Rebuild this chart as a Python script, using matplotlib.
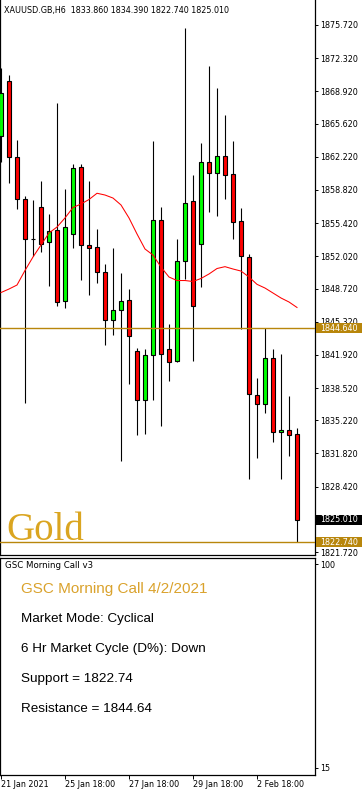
import matplotlib
matplotlib.use('Agg')
import matplotlib.pyplot as plt
from matplotlib.patches import Rectangle
from matplotlib.transforms import blended_transform_factory as blend

# 6H candles, XAUUSD
opens = [1864.35, 1869.98, 1862.20, 1857.89, 1853.79, 1857.07, 1853.49, 1854.72,
         1847.44, 1854.31, 1861.17, 1853.18, 1852.97, 1850.41, 1845.49, 1846.52,
         1847.54, 1842.37, 1837.30, 1841.91, 1855.74, 1842.52, 1841.29, 1851.54,
         1857.69, 1853.28, 1861.68, 1860.56, 1862.30, 1860.45, 1855.64, 1851.95,
         1837.81, 1836.89, 1841.60, 1834.00, 1834.22, 1833.86]
highs = [1871.31, 1870.60, 1863.94, 1858.20, 1857.79, 1859.74, 1856.36, 1867.73,
         1858.92, 1861.48, 1861.48, 1859.74, 1854.82, 1851.23, 1852.87, 1850.31,
         1848.67, 1842.63, 1842.52, 1863.83, 1857.07, 1845.08, 1853.79, 1875.41,
         1860.35, 1863.63, 1871.52, 1869.27, 1866.50, 1863.83, 1856.97, 1852.26,
         1839.55, 1844.64, 1842.52, 1842.01, 1837.71, 1834.39]
lows = [1861.68, 1859.53, 1856.82, 1836.99, 1852.05, 1852.46, 1848.98, 1846.88,
        1846.72, 1852.87, 1849.59, 1848.06, 1849.29, 1842.93, 1843.96, 1831.05,
        1838.94, 1833.71, 1833.81, 1837.30, 1834.63, 1839.24, 1841.24, 1849.70,
        1841.29, 1848.88, 1856.56, 1856.15, 1857.89, 1853.79, 1844.57, 1829.20,
        1831.35, 1835.97, 1832.99, 1829.20, 1831.56, 1822.74]
closes = [1868.75, 1862.20, 1857.89, 1853.79, 1853.79, 1853.28, 1854.61, 1847.34,
          1855.02, 1861.07, 1853.18, 1852.87, 1850.41, 1845.49, 1846.52, 1847.44,
          1843.85, 1837.30, 1841.91, 1855.74, 1842.01, 1841.19, 1851.54, 1857.48,
          1846.93, 1861.68, 1860.56, 1862.30, 1860.35, 1855.54, 1852.05, 1837.91,
          1836.89, 1841.60, 1834.02, 1834.22, 1833.76, 1825.01]
ma = [1848.31, 1848.67, 1849.08, 1850.57, 1851.95, 1853.18, 1854.41, 1855.02,
      1855.95, 1857.02, 1857.38, 1857.84, 1858.48, 1858.30, 1857.99, 1857.28,
      1855.95, 1854.31, 1852.77, 1852.15, 1850.92, 1849.90, 1849.54, 1849.54,
      1849.44, 1849.75, 1850.21, 1850.77, 1850.96, 1850.72, 1850.51, 1849.90,
      1849.15, 1848.77, 1848.26, 1847.75, 1847.34, 1846.78]

resistance = 1844.64
support = 1822.74
price_ticks = [1875.72, 1872.32, 1868.92, 1865.62, 1862.22, 1858.82, 1855.42,
               1852.02, 1848.72, 1845.32, 1841.92, 1838.52, 1835.22, 1831.82,
               1828.42, 1825.02, 1821.72]
date_idx = [0, 8, 16, 24, 32]
date_labels = ['21 Jan 2021', '25 Jan 18:00', '27 Jan 18:00', '29 Jan 18:00', '2 Feb 18:00']
ind_ticks = [15, 100]
info_lines = ['Market Mode: Cyclical', '6 Hr Market Cycle (D%): Down',
              'Support = 1822.74', 'Resistance = 1844.64']

W, H = 364, 790
fig = plt.figure(figsize=(W / 100, H / 100), dpi=100)


def fx(x):
    return x / W


def fy(y):
    return 1 - y / H


ax = fig.add_axes([0, fy(555), 315 / W, 555 / H])
ax2 = fig.add_axes([0, fy(774.5), 315 / W, (774.5 - 557.5) / H])

# candles
x = list(range(len(opens)))
bottoms = [min(o, c) for o, c in zip(opens, closes)]
heights = [abs(c - o) for o, c in zip(opens, closes)]
colors = ['#00ff00' if c > o else ('#ff0000' if c < o else 'black') for o, c in zip(opens, closes)]
ax.vlines(x, lows, highs, color='black', lw=0.8, zorder=2)
ax.bar(x, heights, width=0.56, bottom=bottoms, color=colors, edgecolor='black',
       linewidth=0.8, zorder=3)
ax.plot(x, ma, color='red', lw=0.75, zorder=4)
ax.axhline(resistance, color='#b8860b', lw=1.0, zorder=5)
ax.axhline(support, color='#b8860b', lw=1.0, zorder=5)

ax.set_xlim(-0.125, 39.25)
ax.set_ylim(1821.42, 1878.28)
ax.set_xticks([])
ax.yaxis.tick_right()
ax.set_yticks(price_ticks)
ax.set_yticklabels([f'{v:.3f}' for v in price_ticks])
ax.tick_params(axis='y', length=2.5, width=0.7, pad=1.5, labelsize=5.8)
ax.spines['top'].set_visible(False)
for s in ['left', 'right', 'bottom']:
    ax.spines[s].set_linewidth(0.9)

# price labels on the right scale
tr = blend(ax.transAxes, ax.transData)
for val, bg in [(resistance, '#b8860b'), (closes[-1], 'black'), (support, '#b8860b')]:
    ax.add_patch(Rectangle((316 / 315, val - 0.52), 46 / 315, 1.04, transform=tr,
                           facecolor=bg, edgecolor='none', clip_on=False, zorder=6))
    ax.text(320 / 315, val, f'{val:.3f}', transform=tr, ha='left', va='center',
            color='white', fontsize=5.8, clip_on=False, zorder=7)

fig.text(fx(4), fy(10),
         f'XAUUSD.GB,H6  {opens[-1]:.3f} {highs[-1]:.3f} {lows[-1]:.3f} {closes[-1]:.3f}',
         fontsize=5.8, va='center', ha='left')
fig.text(fx(6), fy(540), 'Gold', family='Liberation Serif', fontsize=28,
         color='#daa520', va='baseline')

# indicator window
ax2.set_xlim(-0.125, 39.25)
ax2.set_ylim(12.29, 102.71)
ax2.yaxis.tick_right()
ax2.set_yticks(ind_ticks)
ax2.set_yticklabels([str(v) for v in ind_ticks])
ax2.tick_params(axis='y', length=2.5, width=0.7, pad=1.5, labelsize=5.8)
ax2.set_xticks(date_idx)
ax2.set_xticklabels(date_labels, ha='left')
ax2.tick_params(axis='x', length=3, width=0.7, pad=1, labelsize=5.8)
for s in ax2.spines.values():
    s.set_linewidth(0.9)

fig.text(fx(5), fy(566), 'GSC Morning Call v3', fontsize=6.2, va='center')
fig.text(fx(21), fy(593.3), 'GSC Morning Call 4/2/2021', family='Liberation Sans',
         fontsize=11, color='#daa22c', va='baseline')
for i, line in enumerate(info_lines):
    fig.text(fx(21), fy(622.3 + 29.9 * i), line, family='Liberation Sans',
             fontsize=9.7, va='baseline')

fig.savefig('out.png', dpi=100)
